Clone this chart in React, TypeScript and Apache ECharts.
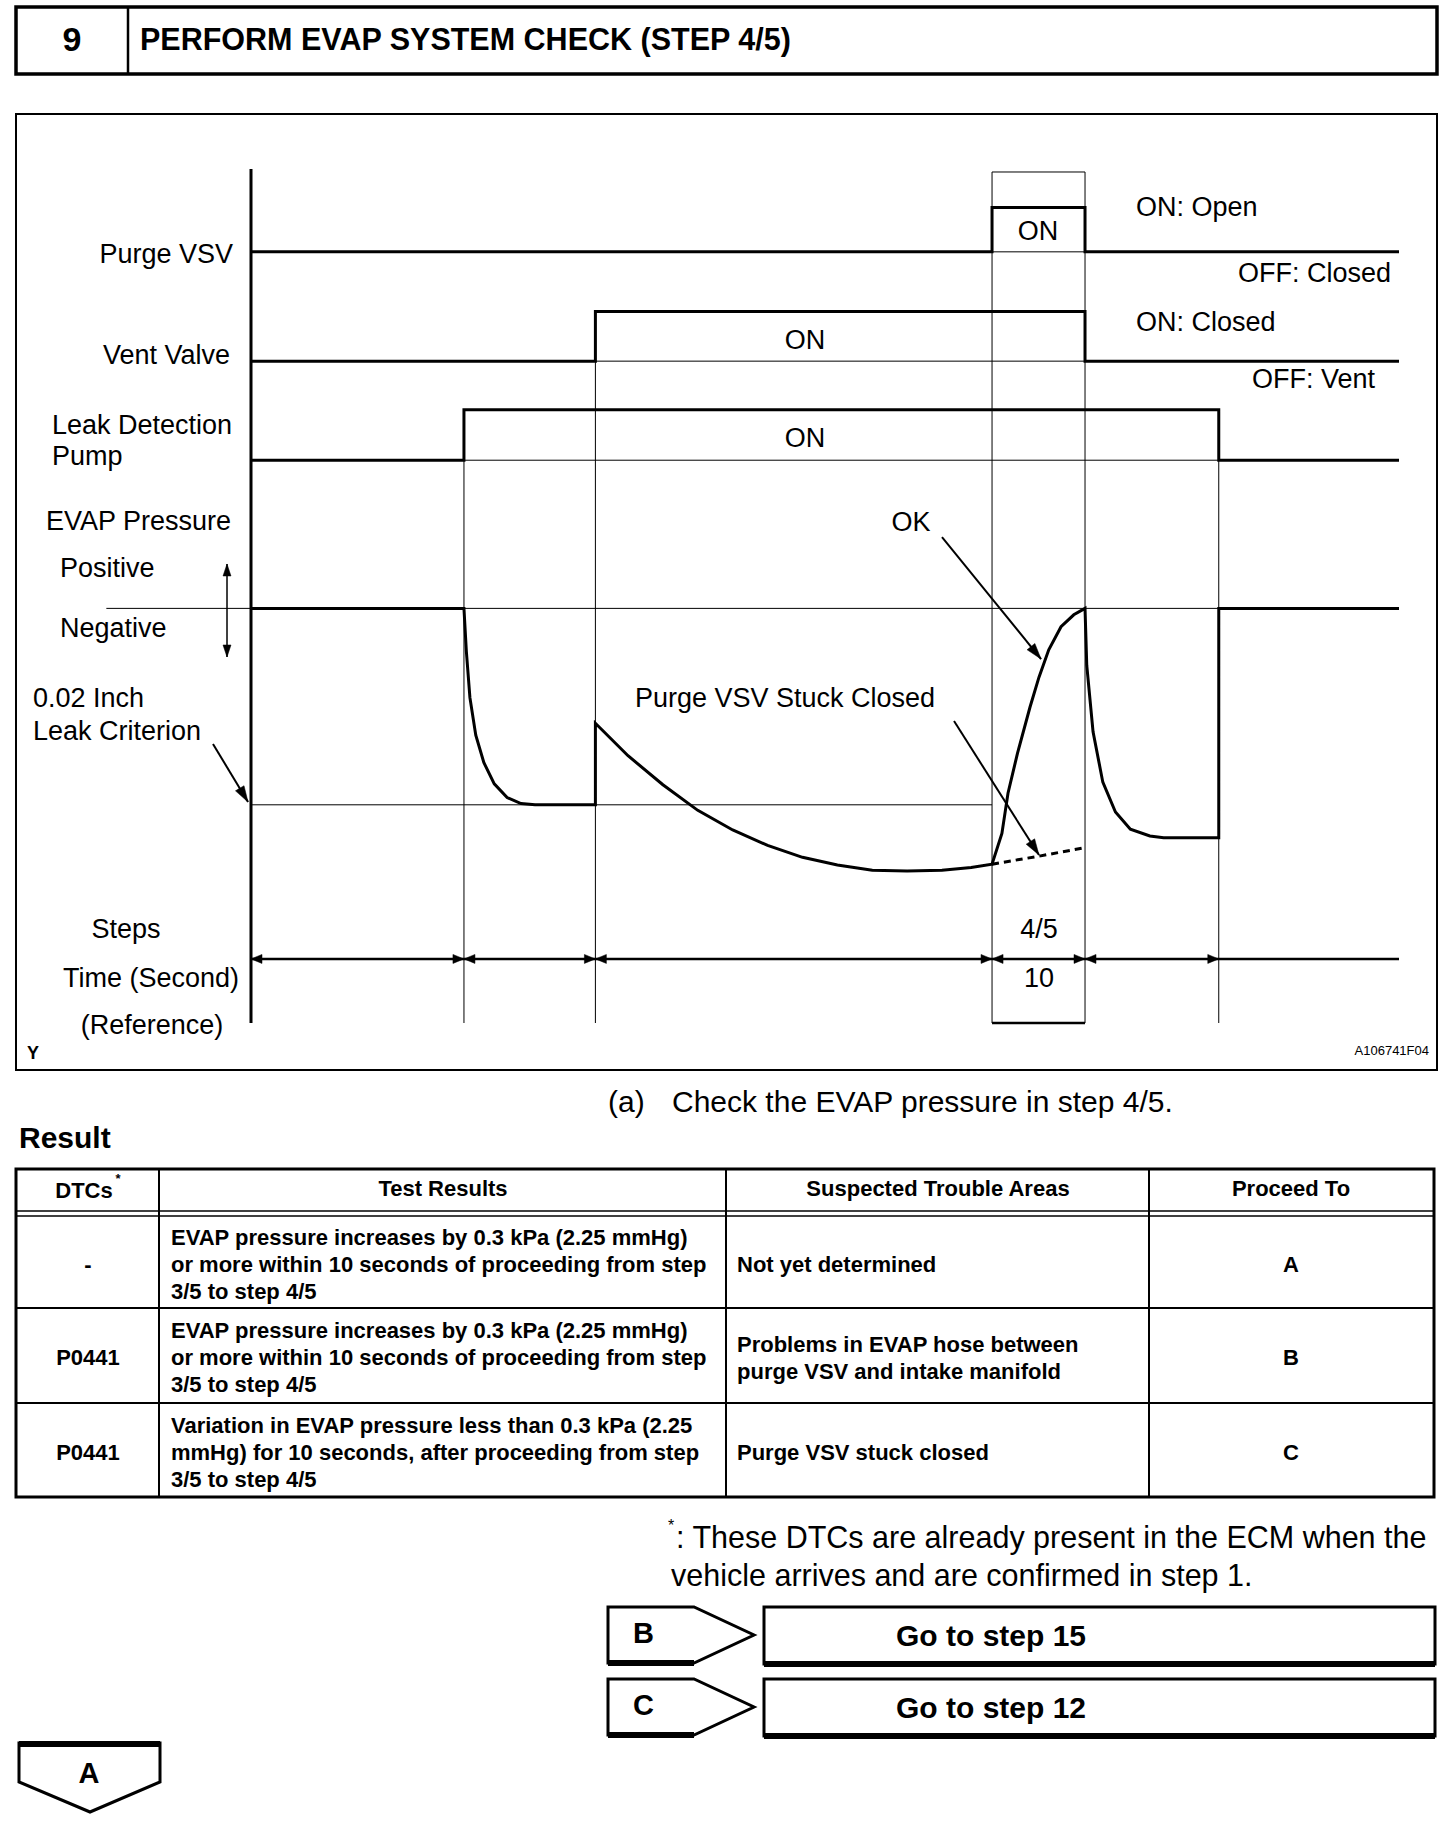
import React, { useEffect, useRef } from "react";
import * as echarts from "echarts";

const FONT = "'Liberation Sans', Arial, Helvetica, sans-serif";
const INK = "#000000";

// ---------- timing diagram data (time axis 0..100, level axis 0..100) ----------
const stepEdges = [0, 18.55, 30, 64.55, 72.65, 84.3, 100];
const purgeVsvOn = [0, 0, 0, 1, 0, 0];
const ventValveOn = [0, 0, 1, 1, 0, 0];
const leakPumpOn = [0, 1, 1, 1, 1, 0];
const purgeVsvLevels = [90.3, 95.5];
const ventValveLevels = [77.5, 83.3];
const leakPumpLevels = [65.9, 71.8];
const evapZeroLevel = 48.55;
const leakCriterionLevel = 25.55;
const stepsRowLevel = 7.5;
const topLevel = 99.65;
const zeroLineStart = -12.6;
const timeAxisMin = -20;

const evapSteps12: number[][] = [
  [0, 48.55], [18.55, 48.55], [18.76, 43.5], [19.07, 38.1], [19.58, 33.7], [20.28, 30.5],
  [21.19, 28.0], [22.31, 26.4], [23.52, 25.7], [24.74, 25.55], [30, 25.55],
];
const evapStep3: number[][] = [
  [30, 25.55], [30, 35.1], [32.84, 31.3], [35.88, 27.9], [38.92, 24.9], [41.96, 22.6],
  [45.0, 20.8], [48.04, 19.4], [51.08, 18.5], [54.12, 17.9], [57.15, 17.8], [60.19, 17.9],
  [62.73, 18.2], [64.55, 18.6],
];
const evapStep45Ok: number[][] = [
  [64.55, 18.6], [65.41, 22.2], [65.94, 26.9], [66.77, 31.6], [67.86, 37.0], [68.64, 40.5],
  [69.49, 43.7], [70.56, 46.4], [71.67, 47.8], [72.65, 48.55],
];
const evapStep45Stuck: number[][] = [[64.55, 18.6], [68.5, 19.5], [72.5, 20.5]];
const evapAfter: number[][] = [
  [72.65, 48.55], [72.8, 41.9], [73.35, 34.1], [74.2, 28.2], [75.3, 24.7], [76.6, 22.7],
  [78.3, 21.9], [79.5, 21.7], [84.3, 21.7], [84.3, 48.55], [100, 48.55],
];

// annotation arrows [from, to] in axis units
const leakCriterionArrow = [[-3.31, 32.67], [-0.26, 25.88]];
const okArrow = [[60.19, 56.9], [68.82, 42.62]];
const stuckArrow = [[61.24, 35.36], [68.64, 19.67]];
const pressureSignArrow = [[-2.09, 42.86], [-2.09, 53.75]];

// ---------- texts ----------
const headerNumber = "9";
const headerTitle = "PERFORM EVAP SYSTEM CHECK (STEP 4/5)";
const tableHeaders = ["DTCs", "Test Results", "Suspected Trouble Areas", "Proceed To"];
const dtcs = ["-", "P0441", "P0441"];
const testResults = [
  ["EVAP pressure increases by 0.3 kPa (2.25 mmHg)", "or more within 10 seconds of proceeding from step", "3/5 to step 4/5"],
  ["EVAP pressure increases by 0.3 kPa (2.25 mmHg)", "or more within 10 seconds of proceeding from step", "3/5 to step 4/5"],
  ["Variation in EVAP pressure less than 0.3 kPa (2.25", "mmHg) for 10 seconds, after proceeding from step", "3/5 to step 4/5"],
];
const troubleAreas = [
  ["Not yet determined"],
  ["Problems in EVAP hose between", "purge VSV and intake manifold"],
  ["Purge VSV stuck closed"],
];
const proceedTo = ["A", "B", "C"];

function stepTrace(states: number[], levels: number[]) {
  const pts: number[][] = [];
  states.forEach((s, i) => {
    pts.push([stepEdges[i], levels[s]]);
    pts.push([stepEdges[i + 1], levels[s]]);
  });
  return pts;
}
function onSpan(states: number[], level: number) {
  const first = states.indexOf(1);
  const last = states.lastIndexOf(1);
  return [[stepEdges[first], level], [stepEdges[last + 1], level]];
}
function ser(data: number[][], width: number, dashed = false) {
  return {
    type: "line",
    data,
    symbol: "none",
    showSymbol: false,
    clip: false,
    silent: true,
    lineStyle: { color: INK, width, type: dashed ? [7, 5] : "solid", cap: "butt", join: "miter" },
    itemStyle: { color: INK },
  };
}

function T(text: string, x: number, y: number, size: number, align = "left", weight = "normal") {
  return {
    type: "text",
    x,
    y,
    silent: true,
    style: { text, fill: INK, fontFamily: FONT, fontSize: size, fontWeight: weight, align, verticalAlign: "middle" },
  };
}
function L(x1: number, y1: number, x2: number, y2: number, w: number) {
  return { type: "line", silent: true, shape: { x1, y1, x2, y2 }, style: { stroke: INK, lineWidth: w } };
}
function R(x: number, y: number, width: number, height: number, w: number) {
  return { type: "rect", silent: true, shape: { x, y, width, height }, style: { fill: "none", stroke: INK, lineWidth: w } };
}
function P(points: number[][], w: number) {
  return { type: "polygon", silent: true, shape: { points }, style: { fill: "#fff", stroke: INK, lineWidth: w } };
}

export default function App() {
  const ref = useRef<HTMLDivElement>(null);
  useEffect(() => {
    document.body.style.margin = "0";
    const chart = echarts.init(ref.current!, null, { renderer: "svg" });

    const series: any[] = [
      ser([[0, 0], [0, 100]], 3),
      ser(stepTrace(purgeVsvOn, purgeVsvLevels), 3),
      ser(stepTrace(ventValveOn, ventValveLevels), 3),
      ser(stepTrace(leakPumpOn, leakPumpLevels), 3),
      ser(onSpan(purgeVsvOn, purgeVsvLevels[0]), 1),
      ser(onSpan(ventValveOn, ventValveLevels[0]), 1),
      ser(onSpan(leakPumpOn, leakPumpLevels[0]), 1),
      ser([[stepEdges[1], 0], [stepEdges[1], leakPumpLevels[1]]], 1),
      ser([[stepEdges[2], 0], [stepEdges[2], ventValveLevels[1]]], 1),
      ser([[stepEdges[3], 0], [stepEdges[3], topLevel]], 1),
      ser([[stepEdges[4], 0], [stepEdges[4], topLevel]], 1),
      ser([[stepEdges[5], 0], [stepEdges[5], leakPumpLevels[1]]], 1),
      ser([[stepEdges[3], topLevel], [stepEdges[4], topLevel]], 1),
      ser([[stepEdges[3], 0], [stepEdges[4], 0]], 2.5),
      ser([[zeroLineStart, evapZeroLevel], [100, evapZeroLevel]], 1),
      ser([[0, leakCriterionLevel], [stepEdges[3], leakCriterionLevel]], 1),
      ser([[0, stepsRowLevel], [100, stepsRowLevel]], 2.5),
      ser([...evapSteps12, ...evapStep3.slice(1), ...evapStep45Ok.slice(1), ...evapAfter.slice(1)], 3),
      ser(evapStep45Stuck, 3, true),
      ser(leakCriterionArrow, 2),
      ser(okArrow, 2),
      ser(stuckArrow, 2),
      ser(pressureSignArrow, 1.5),
    ];

    // 11.48 px per time unit; time 0 sits at x = 251 px
    const gridLeft = 251 + timeAxisMin * 11.48;
    chart.setOption({
      animation: false,
      backgroundColor: "#ffffff",
      grid: { left: gridLeft, right: 57, top: 169, bottom: 801 },
      xAxis: { type: "value", min: timeAxisMin, max: 100, show: false },
      yAxis: { type: "value", min: 0, max: 100, show: false },
      series,
    });

    const px = (p: number[]) => chart.convertToPixel({ gridIndex: 0 }, p) as number[];
    const head = (from: number[], to: number[], len: number, w: number) => {
      const a = px(from);
      const b = px(to);
      const dx = b[0] - a[0];
      const dy = b[1] - a[1];
      const l = Math.hypot(dx, dy);
      const ux = dx / l;
      const uy = dy / l;
      const bx = b[0] - ux * len;
      const by = b[1] - uy * len;
      return {
        type: "polygon",
        silent: true,
        shape: { points: [[b[0], b[1]], [bx - (uy * w) / 2, by + (ux * w) / 2], [bx + (uy * w) / 2, by - (ux * w) / 2]] },
        style: { fill: INK, stroke: INK, lineWidth: 0.5 },
      };
    };

    const heads: any[] = [
      head(leakCriterionArrow[0], leakCriterionArrow[1], 16, 10),
      head(okArrow[0], okArrow[1], 16, 10),
      head(stuckArrow[0], stuckArrow[1], 16, 10),
      head(pressureSignArrow[0], pressureSignArrow[1], 12, 8),
      head(pressureSignArrow[1], pressureSignArrow[0], 12, 8),
    ];
    for (let i = 0; i < 5; i++) {
      const a = [stepEdges[i], stepsRowLevel];
      const b = [stepEdges[i + 1], stepsRowLevel];
      heads.push(head(b, a, 11, 9));
      heads.push(head(a, b, 11, 9));
    }

    const g: any[] = [];
    // header
    g.push(R(16, 7, 1421, 67, 3.5), L(128, 7, 128, 74, 2.5));
    g.push(T(headerNumber, 72, 39, 34, "center", "bold"), T(headerTitle, 140, 39, 30.5, "left", "bold"));
    // diagram frame
    g.push(R(16, 114, 1421, 956, 2));
    // diagram labels
    g.push(
      T("Purge VSV", 233, 254, 27, "right"),
      T("Vent Valve", 230, 355, 27, "right"),
      T("Leak Detection", 52, 425, 27),
      T("Pump", 52, 456, 27),
      T("EVAP Pressure", 231, 521, 27, "right"),
      T("Positive", 60, 568, 27),
      T("Negative", 60, 628, 27),
      T("0.02 Inch", 33, 698, 27),
      T("Leak Criterion", 33, 731, 27),
      T("Steps", 126, 929, 27, "center"),
      T("Time (Second)", 151, 978, 27, "center"),
      T("(Reference)", 152, 1025, 27, "center"),
      T("Y", 27, 1053, 18, "left", "bold"),
      T("A106741F04", 1429, 1050, 13, "right"),
      T("ON", 1038, 231, 27, "center"),
      T("ON", 805, 340, 27, "center"),
      T("ON", 805, 438, 27, "center"),
      T("ON: Open", 1136, 207, 27),
      T("OFF: Closed", 1391, 273, 27, "right"),
      T("ON: Closed", 1136, 322, 27),
      T("OFF: Vent", 1375, 379, 27, "right"),
      T("OK", 911, 522, 27, "center"),
      T("Purge VSV Stuck Closed", 785, 698, 27, "center"),
      T("4/5", 1039, 929, 27, "center"),
      T("10", 1039, 978, 27, "center")
    );
    // instruction + result title
    g.push(T("(a)", 608, 1101, 30), T("Check the EVAP pressure in step 4/5.", 672, 1101, 30));
    g.push(T("Result", 19, 1137, 30, "left", "bold"));
    // table
    const colX = [16, 159, 726, 1149, 1434];
    const rowY = [1216, 1308, 1403, 1497];
    g.push(R(16, 1169, 1418, 328, 3));
    for (let c = 1; c < 4; c++) g.push(L(colX[c], 1169, colX[c], 1497, 2));
    g.push(L(16, 1211, 1434, 1211, 1.5), L(16, 1216, 1434, 1216, 1.5));
    g.push(L(16, 1308, 1434, 1308, 2), L(16, 1403, 1434, 1403, 2));
    g.push(
      T(tableHeaders[0], 84, 1190, 22, "center", "bold"),
      T("*", 118, 1178, 13, "center", "bold"),
      T(tableHeaders[1], 443, 1188, 22, "center", "bold"),
      T(tableHeaders[2], 938, 1188, 22, "center", "bold"),
      T(tableHeaders[3], 1291, 1188, 22, "center", "bold")
    );
    for (let r = 0; r < 3; r++) {
      const mid = (rowY[r] + rowY[r + 1]) / 2 + 2;
      g.push(T(dtcs[r], 88, mid, 22, "center", "bold"));
      testResults[r].forEach((line, k) => g.push(T(line, 171, mid + (k - 1) * 27, 22, "left", "bold")));
      const n = troubleAreas[r].length;
      troubleAreas[r].forEach((line, k) => g.push(T(line, 737, mid + (k - (n - 1) / 2) * 27, 22, "left", "bold")));
      g.push(T(proceedTo[r], 1291, mid, 22, "center", "bold"));
    }
    // footnote
    g.push(T("*", 671, 1525, 16, "center"));
    g.push(T(": These DTCs are already present in the ECM when the", 676, 1537, 30.5));
    g.push(T("vehicle arrives and are confirmed in step 1.", 671, 1575, 30.5));
    // buttons
    const btn = (y: number, letter: string, label: string) => {
      g.push(P([[608, y], [694, y], [754, y + 28], [694, y + 56], [608, y + 56]], 3));
      g.push(L(608, y + 56, 694, y + 56, 6));
      g.push(T(letter, 633, y + 26, 29, "left", "bold"));
      g.push(R(764, y, 671, 57, 3));
      g.push(L(764, y + 57, 1435, y + 57, 6));
      g.push(T(label, 896, y + 28, 30, "left", "bold"));
    };
    btn(1607, "B", "Go to step 15");
    btn(1679, "C", "Go to step 12");
    g.push(P([[19, 1743], [160, 1743], [160, 1782], [90, 1812], [19, 1782]], 3));
    g.push(L(19, 1744, 160, 1744, 6));
    g.push(T("A", 89, 1773, 29, "center", "bold"));

    chart.setOption({ graphic: [...g, ...heads] });

    return () => chart.dispose();
  }, []);
  return <div ref={ref} style={{ width: 1456, height: 1824, background: "#fff" }} />;
}
